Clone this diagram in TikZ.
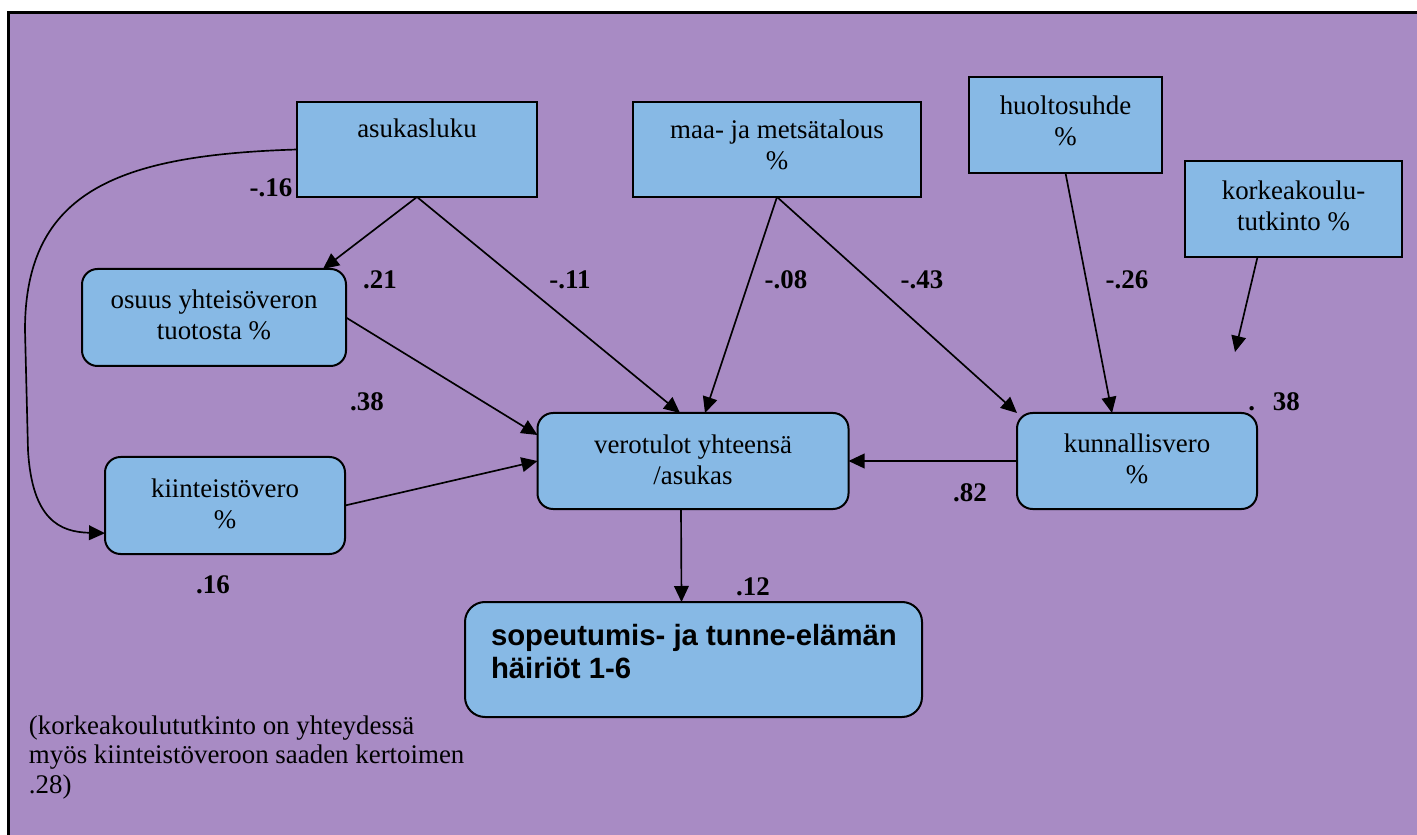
\documentclass[tikz,border=0pt]{standalone}
\usepackage{fontspec}
\setmainfont{Liberation Serif}
\newfontfamily\labelsans{Liberation Sans}
\usetikzlibrary{arrows.meta,calc}
\definecolor{panelbg}{RGB}{168,139,196}
\definecolor{boxfill}{RGB}{135,185,229}
\newcommand\pxu{0.45pt}
\begin{document}
\begin{tikzpicture}[x=0.45pt,y=-0.45pt,
  every node/.style={inner sep=0pt,outer sep=0pt},
  sqbox/.style={draw=black,line width=0.9pt,fill=boxfill,rectangle},
  rbox/.style={sqbox,rounded corners=7pt},
  boxtext/.style={align=center,font=\fontsize{12.1pt}{13.95pt}\selectfont},
  coef/.style={font=\fontsize{12.1pt}{14pt}\selectfont\bfseries},
  link/.style={line width=0.75pt,-{Triangle[length=7.2pt,width=6.6pt]}},
]
\useasboundingbox (0,0) rectangle (1417,835);
% panel background with its frame on the top and left
\fill[panelbg] (8.5,12.7) rectangle (1417,835);
\draw[line width=1.2pt,line join=miter] (8.5,835) -- (8.5,12.7) -- (1417,12.7);

% boxes
\node[sqbox,minimum width=240*\pxu,minimum height=95*\pxu] (asuk) at (417,149.5) {};
\node[sqbox,minimum width=288*\pxu,minimum height=95*\pxu] (maa) at (777,149.5) {};
\node[sqbox,minimum width=193*\pxu,minimum height=96*\pxu] (huolto) at (1065.5,125) {};
\node[sqbox,minimum width=217*\pxu,minimum height=96*\pxu] (korkea) at (1293.5,209) {};
\node[rbox,minimum width=264*\pxu,minimum height=97*\pxu] (osuus) at (214,317.5) {};
\node[rbox,minimum width=240*\pxu,minimum height=97*\pxu] (kiint) at (225,505.5) {};
\node[rbox,minimum width=311*\pxu,minimum height=96*\pxu] (vero) at (693,461) {};
\node[rbox,minimum width=240*\pxu,minimum height=96*\pxu] (kunn) at (1137,461) {};
\node[rbox,rounded corners=9pt,minimum width=457*\pxu,minimum height=115*\pxu] (sopeu) at (693.5,659.5) {};

% box texts
\node[boxtext] (asukT) at (417,128) {asukasluku};
\node[boxtext] (maaT) at (777,144.5) {maa- ja metsätalous\\\%};
\node[boxtext] (huoltoT) at (1065.5,120.5) {huoltosuhde\\\%};
\node[boxtext] (korkeaT) at (1293.5,206) {korkeakoulu-\\tutkinto \%};
\node[boxtext] (osuusT) at (214,315) {osuus yhteisöveron\\tuotosta \%};
\node[boxtext] (kiintT) at (225,504) {kiinteistövero\\\%};
\node[boxtext] (veroT) at (693,460) {verotulot yhteensä\\/asukas};
\node[boxtext] (kunnT) at (1137,459) {kunnallisvero\\\%};
\node[font=\labelsans\bfseries\fontsize{13.2pt}{14.9pt}\selectfont,align=left,anchor=west] (sopeuT) at (491,651.5) {sopeutumis- ja tunne-elämän\\häiriöt 1-6};

% connectors
\draw[link] (asuk.west) .. controls (120,155) and (25,190) .. (25,330) -- (28,450) .. controls (32,520) and (60,532) .. (kiint.193);
\draw[link] (asuk.south) -- ($(osuus.north east)+(-23,0)$);
\draw[link] (asuk.south) -- ($(vero.north)+(-13,0)$);
\draw[link] (maa.south) -- ($(vero.north)+(12,0)$);
\draw[link] (maa.south) -- (kunn.north west);
\draw[link] (huolto.south) -- ($(kunn.north)+(-25,0)$);
\coordinate (kEnd) at (1235,352);
\draw[link] ($(korkea.south)+(-36,0)$) -- (kEnd);
\draw[link] (kunn.west) -- (vero.east);
\draw[link] (osuus.east) -- ($(vero.west)+(0,-26)$);
\draw[link] (kiint.east) -- (vero.west);
\draw[link] ($(vero.south)+(-12,0)$) -- ($(sopeu.north)+(-12,0)$);

% path coefficients
\node[coef] (cAK) at (271,188) {-.16};
\node[coef] (cAO) at (380,280) {.21};
\node[coef] (cAV) at (570,280) {-.11};
\node[coef] (cMV) at (786,280) {-.08};
\node[coef] (cMK) at (922,280) {-.43};
\node[coef] (cHK) at (1127,280) {-.26};
\node[coef] (cOV) at (367,402) {.38};
\node[coef] (cKK) at (1274,402) {.\hspace{8pt}38};
\node[coef] (cKV) at (970,493) {.82};
\node[coef] (cKi) at (213,585) {.16};
\node[coef] (cVS) at (753,587) {.12};

% note
\node[align=left,anchor=west,font=\fontsize{12.1pt}{13.3pt}\selectfont] (note) at (29,757.5) {(korkeakoulututkinto on yhteydessä\\myös kiinteistöveroon saaden kertoimen\\.28)};
\end{tikzpicture}
\end{document}
